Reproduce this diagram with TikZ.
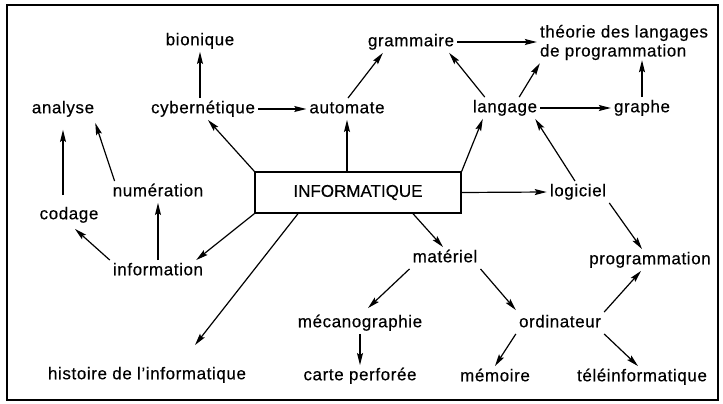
\documentclass[tikz,border=0pt]{standalone}
\usepackage{fontspec}
\setmainfont{Liberation Sans}[LetterSpace=3.5,FakeBold=0.4]
\newfontfamily\boxfont{Liberation Sans}[FakeBold=0.4]
\usetikzlibrary{arrows.meta}
\begin{document}
\begin{tikzpicture}[x=1pt,y=-1pt,
  lbl/.style={font=\fontsize{17}{19}\selectfont, inner sep=3pt},
  w/.style={lbl, text height=12pt, text depth=3.5pt},
  arr/.style={-{Stealth[length=12pt,width=6pt,inset=2pt]}, line width=1.2pt},
  mainbox/.style={draw, line width=1.4pt, minimum width=206pt, minimum height=41pt,
    font=\boxfont\fontsize{17}{19}\selectfont, inner sep=0pt}
]
\useasboundingbox (0,0) rectangle (723,404);
\draw[line width=1.5pt] (7,5) rectangle (718,400);

% nodes
\node[mainbox] (box) at (358,192.5) {INFORMATIQUE};
\node[w] (bio) at (200,41) {bionique};
\node[w] (ana) at (63,109) {analyse};
\node[w] (cyb) at (203,109) {cybernétique};
\node[w] (auto) at (347,109) {automate};
\node[w] (gram) at (411,42) {grammaire};
\node[lbl, align=left] (theo) at (624,42.5) {théorie des langages\\de programmation};
\node[w] (lang) at (505,108) {langage};
\node[w] (graphe) at (642,108) {graphe};
\node[w] (num) at (158,192) {numération};
\node[w] (cod) at (69,215) {codage};
\node[w] (logi) at (578,192) {logiciel};
\node[w] (info) at (158,271) {information};
\node[w] (mat) at (445,258) {matériel};
\node[w] (prog) at (650,260) {programmation};
\node[w] (meca) at (360,323) {mécanographie};
\node[w] (ordi) at (560,323) {ordinateur};
\node[w] (carte) at (360,376) {carte perforée};
\node[w] (memo) at (495,377) {mémoire};
\node[w] (tele) at (642,377) {téléinformatique};
\node[w] (hist) at (147,375) {histoire de l'informatique};

% connectors
\draw[arr] (cyb.north -| bio.south) -- (bio.south);
\draw[arr] (cyb.east) -- (auto.west);
\draw[arr] ([xshift=1pt]auto.north) -- ([xshift=18pt]gram.south west);
\draw[arr] (gram.east) -- (theo.west |- gram.east);
\draw[arr] ([xshift=15pt]lang.north west) -- ([xshift=-8pt]gram.south east);
\draw[arr] ([xshift=-21pt]lang.north east) -- ([xshift=3pt]theo.south west);
\draw[arr] (lang.east) -- (graphe.west);
\draw[arr] (graphe.north) -- ([yshift=3pt]graphe.north |- theo.south);
\draw[arr] (box.north west) -- ([xshift=5pt]cyb.south);
\draw[arr] (box.north -| auto.south) -- (auto.south);
\draw[arr] (box.north east) -- ([xshift=13pt]lang.south west);
\draw[arr] (box.east) -- (logi.west);
\draw[arr] ([xshift=-3pt]logi.north) -- ([xshift=-5pt]lang.south east);
\draw[arr] (logi.south east) -- ([xshift=-8pt]prog.north);
\draw[arr] (box.south west) -- ([xshift=-10pt]info.north east);
\draw[arr] ([xshift=-60pt]box.south) -- ([xshift=48pt,yshift=19pt]hist.north);
\draw[arr] (info.north west) -- ([xshift=6pt,yshift=-3pt]cod.south);
\draw[arr] (info.north) -- (num.south);
\draw[arr, shorten <=9pt, shorten >=10pt] (cod.north -| ana.south) -- (ana.south);
\draw[arr] ([xshift=5pt]num.north west) -- ([xshift=-2pt,yshift=-3pt]ana.south east);
\draw[arr] ([xshift=55pt]box.south) -- ([xshift=-2pt]mat.north);
\draw[arr] (mat.south west) -- ([xshift=8pt,yshift=4pt]meca.north);
\draw[arr] (mat.south east) -- ([yshift=2pt]ordi.north west);
\draw[arr] (ordi.north east) -- ([xshift=-9pt]prog.south);
\draw[arr] (ordi.south west) -- (memo.north);
\draw[arr] (ordi.south east) -- ([xshift=-4pt]tele.north);
\draw[arr] (meca.south -| carte.north) -- (carte.north);
\end{tikzpicture}
\end{document}
